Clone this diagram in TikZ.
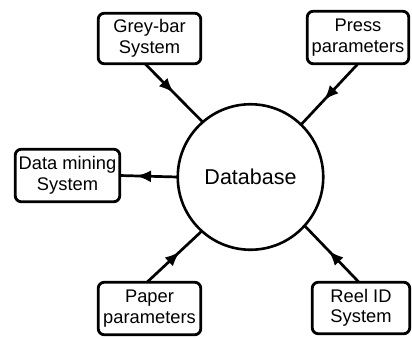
\documentclass[tikz,border=0pt]{standalone}
\usepackage{fontspec}
\setmainfont{Liberation Sans}
\usetikzlibrary{arrows.meta,decorations.markings}
\tikzset{
  box/.style={draw, line width=2.8pt, rounded corners=6pt, align=center,
    inner sep=0pt, outer sep=0pt,
    font=\fontsize{18.3}{20.5}\selectfont},
  db/.style={draw, circle, line width=2.6pt, minimum size=145.5pt, inner sep=0pt,
    outer sep=0pt, font=\fontsize{21.5}{24}\selectfont},
  link/.style={line width=2.7pt, decoration={markings,
    mark=at position #1 with {\arrow{Latex[length=15pt,width=12pt]}}},
    postaction={decorate}},
}
\begin{document}
\begin{tikzpicture}[x=1pt,y=-1pt]
\useasboundingbox (0,0) rectangle (412,338);
\node[db] (d) at (250.5,177) {Database};
\node[box, minimum width=102.5pt, minimum height=50.5pt] (gb) at (149.5,38.5) {Grey-bar\\System};
\node[box, minimum width=101.5pt, minimum height=52.5pt] (pp) at (358,37.5) {Press\\parameters};
\node[box, minimum width=104.5pt, minimum height=52.5pt] (dm) at (67.5,175.5) {Data mining\\System};
\node[box, minimum width=102.5pt, minimum height=52.5pt] (pa) at (149.5,308.5) {Paper\\parameters};
\node[box, minimum width=97.5pt, minimum height=51.5pt] (re) at (361,308) {Reel ID\\System};
\draw[link=0.5] ([xshift=-4.5pt]gb.south) -- (d.131);
\draw[link=0.6] (pp.south) -- (d.46);
\draw[link=0.72] (d.west) -- (dm.east);
\draw[link=0.6] ([xshift=-2.5pt]pa.north) -- (d.228);
\draw[link=0.56] ([xshift=-2pt]re.north) -- (d.318);
\end{tikzpicture}
\end{document}
